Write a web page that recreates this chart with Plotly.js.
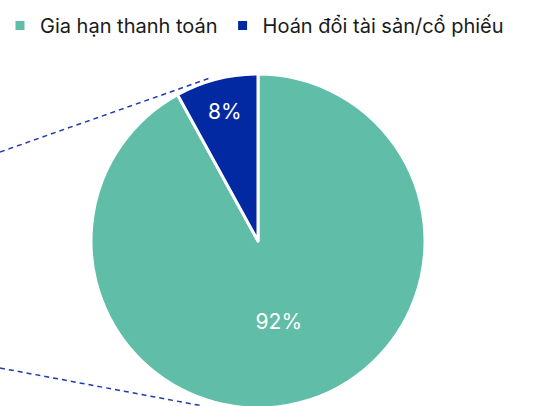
<!DOCTYPE html>
<html>
<head>
<meta charset="utf-8">
<script src="https://cdn.plot.ly/plotly-3.0.1.min.js"></script>
<style>
  html, body { margin: 0; padding: 0; overflow: hidden; background: #fff; }
  #chart { width: 558px; height: 440px; }
</style>
</head>
<body>
<div id="chart"></div>
<script>
// dữ liệu
const labels = ['Gia hạn thanh toán', 'Hoán đổi tài sản/cổ phiếu'];
const shares = [92, 8];
const colors = ['#60BDA8', '#0329A2'];

const W = 558, H = 440;
const marginTop = 74, marginBottom = 32;
const plotH = H - marginTop - marginBottom;
// đổi toạ độ pixel sang paper cho đường nối nét đứt
const px = x => x / W;
const py = y => (H - marginBottom - y) / plotH;

const connectors = [
  [0, 152, 210, 78],
  [0, 368, 203, 406]
];

const trace = {
  type: 'pie',
  labels: labels,
  values: shares,
  sort: false,
  direction: 'clockwise',
  rotation: 0,
  marker: { colors: colors, line: { color: '#ffffff', width: 3 } },
  textinfo: 'percent',
  texttemplate: '%{percent:.0%}',
  textposition: 'inside',
  insidetextorientation: 'horizontal',
  insidetextfont: { color: '#ffffff', size: 21, family: 'Inter, sans-serif' },
  hoverinfo: 'none',
  domain: { x: [91 / W, 425 / W], y: [0, 1] }
};

const layout = {
  width: W,
  height: H,
  margin: { l: 0, r: 0, t: marginTop, b: marginBottom },
  paper_bgcolor: '#ffffff',
  showlegend: true,
  legend: {
    orientation: 'h',
    x: 0, xanchor: 'left',
    y: py(6), yanchor: 'top',
    font: { size: 20, color: '#1a1a1a', family: 'Inter, sans-serif' },
    itemwidth: 30,
    traceorder: 'normal'
  },
  shapes: connectors.map(c => ({
    type: 'line', xref: 'paper', yref: 'paper',
    x0: px(c[0]), y0: py(c[1]), x1: px(c[2]), y1: py(c[3]),
    line: { color: '#1F3BB0', width: 1.5, dash: '5px,4px' },
    layer: 'below'
  }))
};

Plotly.newPlot('chart', [trace], layout, { displayModeBar: false, staticPlot: true });
</script>
</body>
</html>
